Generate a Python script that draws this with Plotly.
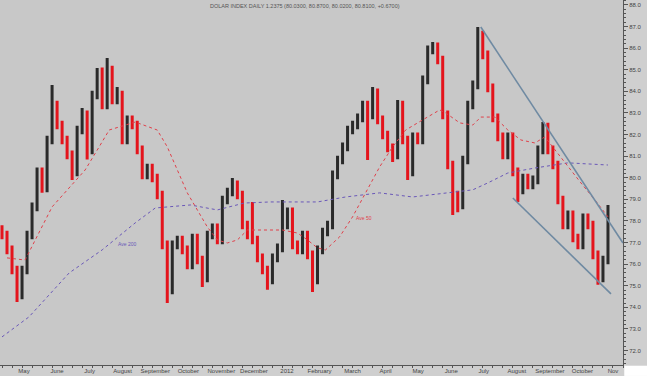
import plotly.graph_objects as go

# ---- price bars (one bar per ~3 trading days) ----
opn = [77.60, 77.35, 76.66, 75.73, 74.57, 75.73, 77.35, 78.65, 80.27, 79.53,
       81.75, 83.37, 82.44, 81.75, 81.06, 80.27, 82.21, 82.91, 81.29, 83.83,
       84.90, 83.37, 84.99, 83.60, 83.83, 81.75, 82.68, 82.44, 81.29, 80.13,
       80.45, 79.99, 79.20, 76.89, 74.81, 76.89, 77.12, 76.66, 75.96, 77.21,
       76.19, 75.36, 77.35, 77.68, 77.12, 78.97, 79.34, 79.67, 79.20, 77.81,
       77.35, 77.12, 76.29, 75.73, 75.27, 76.29, 76.75, 77.81, 78.42, 76.89,
       76.66, 77.35, 76.43, 75.27, 76.66, 77.49, 77.81, 80.13, 80.82, 81.43,
       82.21, 82.44, 82.77, 83.37, 82.91, 83.93, 82.68, 81.98, 81.38, 81.06,
       83.37, 81.75, 80.27, 81.89, 81.75, 84.53, 85.92, 86.06, 85.45, 82.91,
       80.59, 79.20, 78.74, 80.82, 83.37, 84.30, 86.61, 85.69, 84.16, 82.77,
       81.89, 81.06, 81.89, 80.27, 79.44, 79.99, 79.67, 79.90, 81.29, 82.35,
       81.29, 80.59, 78.97, 77.81, 78.28, 77.21, 76.89, 78.14, 77.81, 76.43,
       75.36, 76.19]
cls = [77.35, 76.66, 75.73, 74.57, 75.73, 77.35, 78.65, 80.27, 79.53, 81.75,
       83.37, 82.44, 81.75, 81.06, 80.27, 82.21, 82.91, 81.29, 83.83, 84.90,
       83.37, 84.99, 83.60, 83.83, 81.75, 82.68, 82.44, 81.29, 80.13, 80.45,
       79.99, 79.20, 76.89, 74.81, 76.89, 77.12, 76.66, 75.96, 77.21, 76.19,
       75.36, 77.35, 77.68, 77.12, 78.97, 79.34, 79.67, 79.20, 77.81, 77.35,
       77.12, 76.29, 75.73, 75.27, 76.29, 76.75, 77.81, 78.42, 76.89, 76.66,
       77.35, 76.43, 75.27, 76.66, 77.49, 77.81, 80.13, 80.82, 81.43, 82.21,
       82.44, 82.77, 83.37, 82.91, 83.93, 82.68, 81.98, 81.38, 81.06, 83.37,
       81.75, 80.27, 81.89, 81.75, 84.53, 85.92, 86.06, 85.45, 82.91, 80.59,
       79.20, 78.74, 80.82, 83.37, 84.30, 86.61, 85.69, 84.16, 82.77, 81.89,
       81.06, 81.89, 80.27, 79.44, 79.99, 79.67, 79.90, 81.29, 82.35, 81.29,
       80.59, 78.97, 77.81, 78.28, 77.21, 76.89, 78.14, 77.81, 76.43, 75.36,
       76.19, 78.28]
high = [77.80, 77.55, 76.86, 75.93, 75.93, 77.55, 78.85, 80.47, 80.47, 81.95,
        84.30, 83.57, 82.64, 81.95, 81.26, 82.41, 83.23, 83.11, 84.03, 85.08,
        85.10, 85.55, 85.19, 84.20, 84.03, 82.88, 82.88, 82.64, 81.49, 80.65,
        80.65, 80.19, 79.40, 77.09, 77.09, 77.32, 77.32, 76.86, 77.41, 77.41,
        76.39, 77.55, 77.88, 77.88, 79.17, 79.54, 79.99, 79.87, 79.40, 78.01,
        78.88, 77.32, 76.49, 75.93, 76.49, 76.95, 78.97, 78.62, 78.62, 77.09,
        77.55, 77.55, 76.63, 76.86, 77.69, 78.01, 80.33, 81.02, 81.63, 82.41,
        82.64, 82.97, 83.57, 83.57, 84.20, 84.13, 82.88, 82.18, 81.58, 83.60,
        83.57, 81.95, 82.09, 82.09, 84.73, 86.12, 86.29, 86.26, 85.65, 83.11,
        80.79, 79.40, 81.02, 83.57, 84.50, 86.98, 86.81, 85.89, 84.36, 82.97,
        82.09, 82.09, 82.09, 80.47, 80.19, 80.19, 80.10, 81.49, 82.58, 82.55,
        81.49, 80.79, 79.17, 78.48, 78.48, 77.41, 78.34, 78.34, 78.01, 76.63,
        76.39, 78.74]
low = [77.15, 76.46, 75.53, 74.25, 74.37, 75.53, 77.15, 78.45, 79.30, 79.33,
       81.55, 82.24, 81.55, 80.86, 79.90, 80.07, 82.01, 80.85, 81.09, 83.63,
       83.17, 83.17, 83.40, 83.40, 81.55, 81.55, 82.24, 81.09, 79.93, 79.93,
       79.79, 79.00, 76.69, 74.20, 74.61, 76.69, 76.46, 75.76, 75.76, 75.99,
       74.94, 75.16, 77.15, 76.92, 76.92, 78.77, 79.14, 79.00, 77.61, 77.15,
       76.92, 76.09, 75.53, 74.81, 75.07, 76.09, 76.55, 77.61, 76.69, 76.46,
       76.46, 76.23, 74.71, 75.07, 76.46, 77.29, 77.61, 79.93, 80.62, 81.23,
       82.01, 82.24, 82.57, 80.82, 82.71, 82.48, 81.78, 81.18, 80.73, 80.86,
       81.55, 79.90, 80.07, 81.55, 81.55, 84.33, 85.72, 85.25, 82.71, 80.39,
       78.28, 78.40, 78.54, 80.62, 83.17, 84.10, 85.49, 83.96, 82.57, 81.69,
       80.86, 80.86, 80.07, 78.88, 79.24, 79.47, 79.47, 79.70, 81.09, 81.09,
       80.39, 78.77, 77.61, 77.61, 77.01, 76.69, 76.69, 77.61, 76.23, 75.04,
       75.16, 75.99]
bar_x = list(range(len(cls)))

# ---- moving averages ----
ma50_x = [1, 4.6, 10, 16.6, 19.4, 21.4, 26.6, 29.4, 31, 33, 35, 37, 39, 41, 43, 45,
          47, 49, 52, 56, 59, 61, 63, 64.6, 67.4, 70, 72.6, 75.4, 78, 80.6, 84,
          87.4, 88.6, 91.4, 94, 95.6, 98.4, 101, 103.6, 106.4, 108.4, 110.4, 113,
          115.6, 118.4, 121]
ma50_y = [76.29, 76.19, 78.65, 80.36, 81.43, 82.21, 82.58, 82.35, 82.21, 81.43,
          80.36, 79.30, 78.51, 77.72, 77.12, 76.98, 77.12, 77.58, 77.58, 77.58,
          77.44, 77.12, 76.75, 76.66, 77.26, 78.19, 79.30, 80.50, 81.43, 82.21,
          82.68, 83.14, 83.00, 82.54, 82.44, 82.81, 82.81, 82.21, 81.75, 81.61,
          81.89, 81.29, 80.50, 79.76, 78.97, 78.19]
ma200_x = [0, 5.4, 13.4, 20, 26.6, 30.6, 37.6, 43, 48.4, 53.6, 59, 63, 68.6, 75.4,
           82, 88.6, 94, 97, 101, 106.4, 113, 121]
ma200_y = [72.63, 73.56, 75.59, 76.66, 77.91, 78.60, 78.74, 78.51, 78.83, 78.88,
           78.88, 78.88, 79.11, 79.30, 79.11, 79.30, 79.44, 79.76, 80.22, 80.45,
           80.69, 80.59]

# ---- trend channel ----
trend_up_x = [95.6, 124.0]
trend_up_y = [86.98, 76.98]
trend_dn_x = [102.0, 121.6]
trend_dn_y = [79.06, 74.62]

# ---- axis labels ----
month_pos = [4.4, 11.0, 17.5, 24.1, 30.6, 37.2, 43.8, 50.3, 56.9, 63.4, 70.0,
             76.6, 83.1, 89.7, 96.2, 102.8, 109.4, 115.9, 122.0]
month_txt = ["May", "June", "July", "August", "September", "October", "November",
             "December", "2012", "February", "March", "April", "May", "June",
             "July", "August", "September", "October", "Nov"]
price_ticks = [72, 73, 74, 75, 76, 77, 78, 79, 80, 81, 82, 83, 84, 85, 86, 87, 88]
title_txt = "DOLAR INDEX DAILY 1.2375 (80.0300, 80.8700, 80.0200, 80.8100, +0.6700)"

FONT = "Arial, Liberation Sans, sans-serif"

fig = go.Figure()
fig.add_trace(go.Scatter(x=ma200_x, y=ma200_y, mode="lines",
                         line=dict(color="#6a58b8", width=1, dash="dot"),
                         hoverinfo="skip"))
fig.add_trace(go.Scatter(x=ma50_x, y=ma50_y, mode="lines",
                         line=dict(color="#e0404a", width=1, dash="dot"),
                         hoverinfo="skip"))
fig.add_trace(go.Ohlc(x=bar_x, open=opn, high=high, low=low, close=cls,
                      increasing=dict(line=dict(color="#2a2a2a", width=3)),
                      decreasing=dict(line=dict(color="#e4141c", width=3)),
                      tickwidth=0.3))
fig.add_trace(go.Scatter(x=trend_up_x, y=trend_up_y, mode="lines",
                         line=dict(color="#6f8aa2", width=1.6), hoverinfo="skip"))
fig.add_trace(go.Scatter(x=trend_dn_x, y=trend_dn_y, mode="lines",
                         line=dict(color="#6f8aa2", width=1.6), hoverinfo="skip"))

fig.add_annotation(x=25, y=76.94, text="Ave 200", showarrow=False,
                   font=dict(size=5, color="#6a58b8", family=FONT))
fig.add_annotation(x=72.2, y=78.14, text="Ave 50", showarrow=False,
                   font=dict(size=5, color="#e0404a", family=FONT))
fig.add_annotation(x=0.49, y=0.997, xref="paper", yref="paper", yanchor="top",
                   text=title_txt, showarrow=False,
                   font=dict(size=5.5, color="#555555", family=FONT))

# white corner below the right axis
fig.add_shape(type="rect", xref="paper", yref="paper", x0=1.002, x1=1.04,
              y0=-0.03, y1=-0.002, fillcolor="white", line_width=0, layer="above")

fig.update_layout(
    width=647, height=376,
    margin=dict(l=0, r=24, t=0, b=11),
    paper_bgcolor="#cfcfcf", plot_bgcolor="#c8c8c8",
    showlegend=False,
    font=dict(family=FONT, size=6, color="#444444"),
)
fig.update_xaxes(range=[-0.4, 124.0], showgrid=False, zeroline=False,
                 rangeslider_visible=False,
                 tickmode="array", tickvals=month_pos, ticktext=month_txt,
                 tickfont=dict(size=6, color="#444444"), ticks="", ticklen=0,
                 showline=True, linecolor="#555555", linewidth=1,
                 minor=dict(ticks="outside", ticklen=2, dtick=2, tick0=0,
                            tickcolor="#555555"),
                 automargin=False)
fig.update_yaxes(range=[71.33, 88.23], side="right", showgrid=False,
                 zeroline=False, tickmode="array", tickvals=price_ticks,
                 ticktext=[f"{v:.1f}" for v in price_ticks],
                 tickfont=dict(size=6, color="#444444"),
                 ticks="outside", ticklen=4, tickcolor="#555555",
                 showline=True, linecolor="#555555", linewidth=1,
                 minor=dict(ticks="outside", ticklen=2, dtick=0.2,
                            tickcolor="#555555"),
                 automargin=False)

fig.write_html("out.html")
